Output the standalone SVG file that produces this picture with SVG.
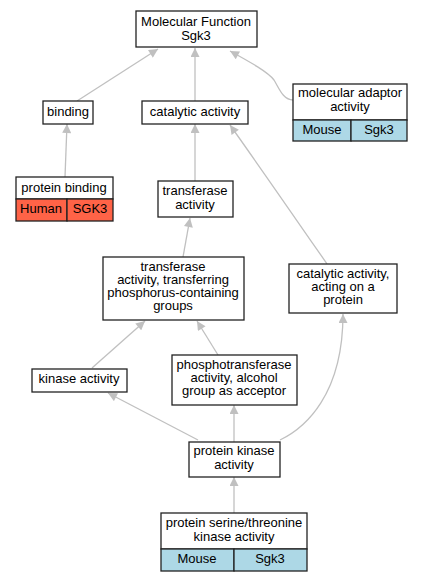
<svg xmlns="http://www.w3.org/2000/svg" width="421" height="581" viewBox="0 0 421 581">
<defs>
<marker id="ah" viewBox="0 0 10 10" refX="10" refY="5" markerWidth="10" markerHeight="9" markerUnits="userSpaceOnUse" orient="auto">
<path d="M0,0 L10,5 L0,10 z" fill="#c0c0c0"/>
</marker>
</defs>
<style>
.box{fill:#fff;stroke:#222;stroke-width:1.3}
.mouse{fill:#add8e6;stroke:#222;stroke-width:1.3}
.human{fill:#ff6347;stroke:#222;stroke-width:1.3}
text{font-family:"Liberation Sans",Arial,sans-serif;font-size:13px;fill:#000;text-anchor:middle}
.edge{fill:none;stroke:#c0c0c0;stroke-width:1.3;marker-end:url(#ah)}
</style>
<rect width="421" height="581" fill="#fff"/>
<g id="edges">
<path class="edge" d="M77,101 L158,49"/>
<path class="edge" d="M195,101 L195,48"/>
<path class="edge" d="M293,100 C283,100 279,88 274,80 C268,72 250,62 230,51"/>
<path class="edge" d="M65,177 L67,124"/>
<path class="edge" d="M195,181 L195,124"/>
<path class="edge" d="M327,264 C300,225 262,170 230,125"/>
<path class="edge" d="M183,257 L190,218"/>
<path class="edge" d="M92,368 L145,321"/>
<path class="edge" d="M218,355 L197,321"/>
<path class="edge" d="M198,440 L108,393"/>
<path class="edge" d="M234,442 L234,405"/>
<path class="edge" d="M280,440 C305,428 343,395 343,314"/>
<path class="edge" d="M234,513 L234,477"/>
</g>
<g id="mf">
<rect class="box" x="136" y="11" width="121" height="36"/>
<text x="196" y="26">Molecular Function</text>
<text x="196" y="40">Sgk3</text>
</g>
<g id="binding">
<rect class="box" x="43" y="101" width="50" height="23"/>
<text x="68" y="116">binding</text>
</g>
<g id="catalytic">
<rect class="box" x="142" y="101" width="106" height="23"/>
<text x="195" y="116">catalytic activity</text>
</g>
<g id="adaptor">
<rect class="box" x="293" y="84" width="114" height="36"/>
<text x="350" y="97">molecular adaptor</text>
<text x="350" y="111">activity</text>
<rect class="mouse" x="293" y="120" width="58" height="21"/>
<rect class="mouse" x="351" y="120" width="56" height="21"/>
<text x="322" y="134">Mouse</text>
<text x="379" y="134">Sgk3</text>
</g>
<g id="proteinbinding">
<rect class="box" x="16" y="177" width="97" height="22"/>
<text x="64" y="192">protein binding</text>
<rect class="human" x="16" y="199" width="51" height="22"/>
<rect class="human" x="67" y="199" width="46" height="22"/>
<text x="41" y="213">Human</text>
<text x="90" y="213">SGK3</text>
</g>
<g id="transferase">
<rect class="box" x="158" y="181" width="75" height="36"/>
<text x="195" y="195">transferase</text>
<text x="195" y="209">activity</text>
</g>
<g id="transferring">
<rect class="box" x="103" y="257" width="141" height="63"/>
<text x="173" y="271">transferase</text>
<text x="173" y="284">activity, transferring</text>
<text x="173" y="297">phosphorus-containing</text>
<text x="173" y="310">groups</text>
</g>
<g id="actingprotein">
<rect class="box" x="289" y="264" width="108" height="49"/>
<text x="343" y="278">catalytic activity,</text>
<text x="343" y="291">acting on a</text>
<text x="343" y="304">protein</text>
</g>
<g id="kinase">
<rect class="box" x="32" y="369" width="95" height="23"/>
<text x="79" y="383">kinase activity</text>
</g>
<g id="phospho">
<rect class="box" x="172" y="355" width="125" height="50"/>
<text x="234" y="369">phosphotransferase</text>
<text x="234" y="382">activity, alcohol</text>
<text x="234" y="395">group as acceptor</text>
</g>
<g id="proteinkinase">
<rect class="box" x="189" y="442" width="91" height="35"/>
<text x="234" y="455">protein kinase</text>
<text x="234" y="469">activity</text>
</g>
<g id="serthr">
<rect class="box" x="161" y="513" width="146" height="36"/>
<text x="234" y="527">protein serine/threonine</text>
<text x="234" y="541">kinase activity</text>
<rect class="mouse" x="161" y="549" width="73" height="22"/>
<rect class="mouse" x="234" y="549" width="73" height="22"/>
<text x="197" y="563">Mouse</text>
<text x="270" y="563">Sgk3</text>
</g>
</svg>
